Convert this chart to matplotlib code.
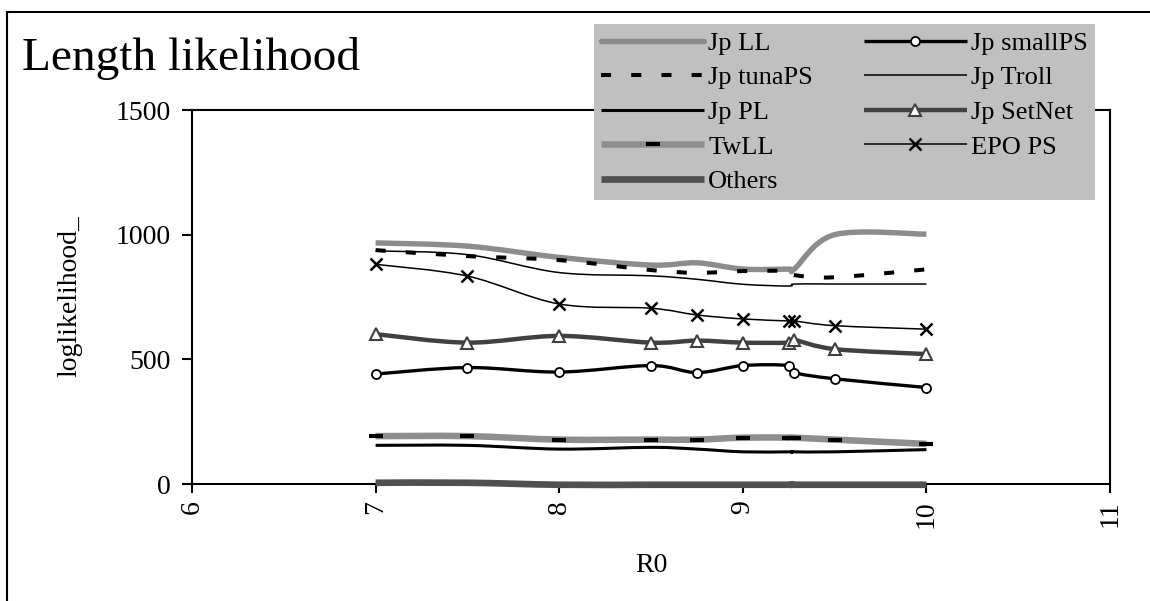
import matplotlib
matplotlib.use("Agg")
from matplotlib import pyplot as plt
from matplotlib.path import Path
from matplotlib.patches import PathPatch, Rectangle
from matplotlib.lines import Line2D

plt.rcParams['font.family'] = ['Liberation Serif', 'DejaVu Serif']

# R0 values (same grid for every fleet)
r0 = [7, 7.5, 8, 8.5, 8.75, 9, 9.25, 9.28, 9.5, 10]

jp_ll = [967, 954, 909, 878, 887, 862, 862, 862, 1000, 1002]
jp_smallps = [441, 467, 449, 475, 447, 475, 475, 447, 422, 387]
jp_tunaps = [938, 914, 898, 858, 847, 854, 854, 838, 829, 861]
jp_troll = [935, 920, 848, 835, 821, 801, 794, 802, 802, 802]
jp_pl = [155, 155, 140, 147, 140, 129, 129, 129, 129, 138]
jp_setnet = [601, 567, 594, 567, 575, 567, 567, 578, 541, 521]
tw_ll = [192, 192, 178, 178, 178, 186, 186, 186, 178, 161]
epo_ps = [881, 834, 722, 705, 678, 662, 654, 654, 635, 621]
others = [5, 5, -3, -3, -3, -3, -3, -3, -3, -3]

xticks = [6, 7, 8, 9, 10, 11]
yticks = [0, 500, 1000, 1500]


def smooth(xs, ys):
    # excel-like smoothed line: cubic bezier through every point
    pts = list(zip(xs, ys))
    n = len(pts)
    verts = [pts[0]]
    codes = [Path.MOVETO]
    for i in range(n - 1):
        p0 = pts[i - 1] if i > 0 else pts[i]
        p1 = pts[i]
        p2 = pts[i + 1]
        p3 = pts[i + 2] if i + 2 < n else pts[i + 1]
        c1 = (p1[0] + (p2[0] - p0[0]) / 6, p1[1] + (p2[1] - p0[1]) / 6)
        c2 = (p2[0] - (p3[0] - p1[0]) / 6, p2[1] - (p3[1] - p1[1]) / 6)
        verts += [c1, c2, p2]
        codes += [Path.CURVE4] * 3
    return Path(verts, codes)


fig = plt.figure(figsize=(11.5, 6.01), dpi=100)
ax = fig.add_axes([192 / 1150, 117 / 601, 918 / 1150, 374 / 601])

series = [
    # label, data, color, lw, linestyle, marker, msize, mface, medge, mew
    ("Jp LL", jp_ll, "#8c8c8c", 3.9, "-", None, 0, None, None, 0),
    ("Jp smallPS", jp_smallps, "black", 2.4, "-", "o", 6.5, "white", "black", 1.3),
    ("Jp tunaPS", jp_tunaps, "black", 2.9, (0, (2.5, 5)), None, 0, None, None, 0),
    ("Jp Troll", jp_troll, "black", 1.1, "-", None, 0, None, None, 0),
    ("Jp PL", jp_pl, "black", 2.2, "-", None, 0, None, None, 0),
    ("Jp SetNet", jp_setnet, "#404040", 3.2, "-", "^", 8.5, "white", "#404040", 1.5),
    ("TwLL", tw_ll, "#8e8e8e", 4.7, "-", "_", 9.5, "black", "black", 3.0),
    ("EPO PS", epo_ps, "black", 1.1, "-", "x", 8.5, "black", "black", 1.8),
    ("Others", others, "#505050", 4.8, "-", None, 0, None, None, 0),
]

handles = {}
for z, (lab, ys, col, lw, ls, mk, ms, mf, me, mew) in enumerate(series):
    patch = PathPatch(smooth(r0, ys), fill=False, edgecolor=col, lw=lw,
                      linestyle=ls, capstyle='butt', joinstyle='round',
                      clip_on=False, zorder=3 + z)
    ax.add_patch(patch)
    if mk:
        ax.plot(r0, ys, linestyle='none', marker=mk, ms=ms, mfc=mf, mec=me,
                mew=mew, clip_on=False, zorder=3.5 + z)
    handles[lab] = Line2D([], [], color=col, lw=lw, linestyle=ls,
                          solid_capstyle='round' if lab == "Jp LL" else 'butt',
                          marker=mk if mk else None, ms=ms, mfc=mf, mec=me,
                          mew=mew)

ax.set_xlim(6, 11)
ax.set_ylim(0, 1500)
ax.set_xticks(xticks)
ax.set_yticks(yticks)
ax.set_xticklabels([str(t) for t in xticks], rotation=90, fontsize=20)
ax.set_yticklabels([str(t) for t in yticks], fontsize=20)
ax.tick_params(axis='y', direction='out', length=7.2, width=1.5, pad=8)
ax.tick_params(axis='x', direction='out', length=6.5, width=1.5, pad=5)
for sp in ax.spines.values():
    sp.set_linewidth(1.5)

order = ["Jp LL", "Jp tunaPS", "Jp PL", "TwLL", "Others",
         "Jp smallPS", "Jp Troll", "Jp SetNet", "EPO PS"]
leg = fig.legend([handles[k] for k in order], order, ncol=2, numpoints=1,
                 loc='upper left', mode='expand',
                 bbox_to_anchor=(594 / 1150, 1 - 24 / 601 - 0.01, 501 / 1150, 0.01),
                 fontsize=19, handlelength=3.9, handletextpad=0.15,
                 labelspacing=0.42, borderpad=0.28, borderaxespad=0,
                 frameon=True, fancybox=False, framealpha=1)
leg.get_frame().set_facecolor('#c0c0c0')
leg.get_frame().set_edgecolor('none')

fig.text(22 / 1150, 1 - 70 / 601, "Length likelihood", fontsize=34,
         va='baseline', ha='left')
fig.text(70 / 1150, 1 - 296 / 601, "loglikelihood_", fontsize=20,
         rotation=90, va='center', ha='center')
fig.text(651 / 1150, 1 - 565 / 601, "R0", fontsize=20,
         va='center', ha='center')

fig.patches.append(Rectangle((7 / 1150, -0.2), 2, 1.2 - 12 / 601,
                             transform=fig.transFigure, fill=False,
                             lw=1.5, edgecolor='black'))

fig.savefig("out.png", dpi=100)
